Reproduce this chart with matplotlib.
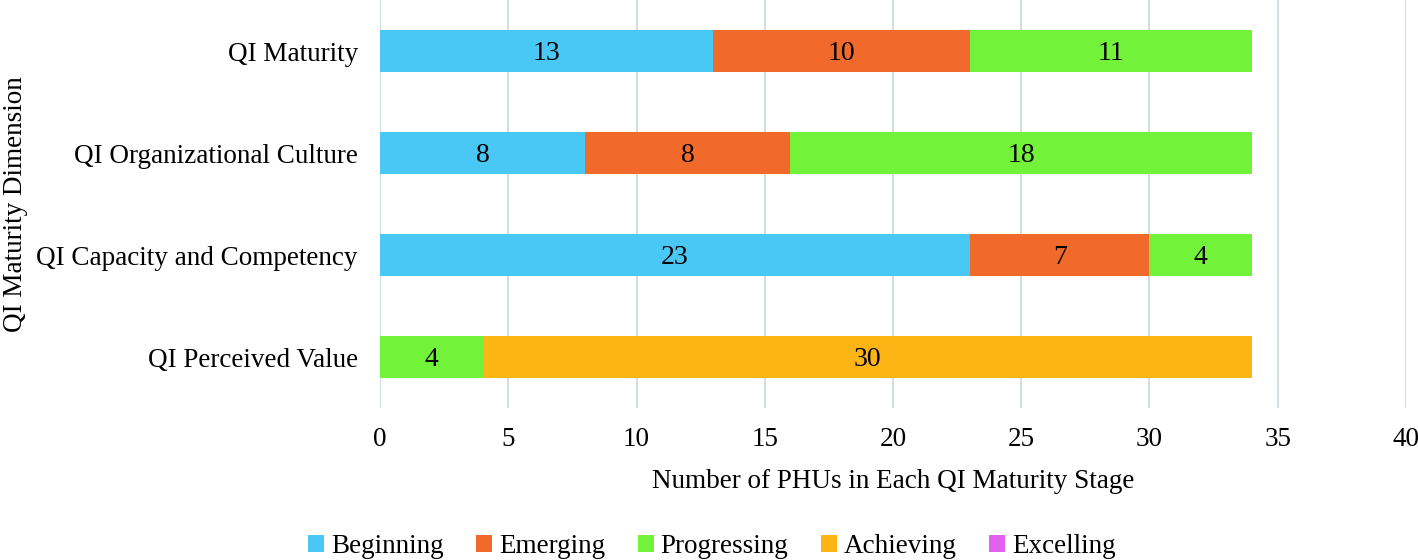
import numpy as np
import matplotlib
matplotlib.use('Agg')
import matplotlib.pyplot as plt

plt.rcParams['font.family'] = ['Liberation Serif', 'DejaVu Serif']

# data, top to bottom as shown
dimensions = ['QI Maturity', 'QI Organizational Culture',
              'QI Capacity and Competency', 'QI Perceived Value']
stages = ['Beginning', 'Emerging', 'Progressing', 'Achieving', 'Excelling']
beginning = [13, 8, 23, 0]
emerging = [10, 8, 7, 0]
progressing = [11, 18, 4, 4]
achieving = [0, 0, 0, 30]
excelling = [0, 0, 0, 0]

colors = ['#4ac8f5', '#f26a2b', '#73f23a', '#fdb515', '#e062ef']
fs = 19.5

fig = plt.figure(figsize=(14.18, 5.6), dpi=100)
ax = fig.add_axes([0.268, 0.2714, 0.7235, 0.7286])

y = np.arange(len(dimensions))
left = np.zeros(len(dimensions))
for name, vals, col in zip(stages, [beginning, emerging, progressing, achieving, excelling], colors):
    vals = np.array(vals, dtype=float)
    bars = ax.barh(y, vals, left=left, height=0.41, color=col, label=name, zorder=3)
    for b, v in zip(bars, vals):
        if v > 0:
            ax.text(b.get_x() + b.get_width() / 2, b.get_y() + b.get_height() / 2 + 0.02,
                    f'{int(v)}', ha='center', va='center', fontsize=fs + 0.5, zorder=4)
    left += vals

ax.set_xlim(0, 40)
ax.set_ylim(3.5, -0.5)
ax.set_yticks(y)
ax.set_yticklabels(dimensions, fontsize=fs)
ax.set_xticks(np.arange(0, 41, 5))
ax.tick_params(axis='x', labelsize=fs, length=0, pad=14)
ax.tick_params(axis='y', length=0, pad=16)
ax.grid(axis='x', color='#d5dde0', linewidth=1.5, zorder=0)
for s in ax.spines.values():
    s.set_visible(False)

ax.set_xlabel('Number of PHUs in Each QI Maturity Stage', fontsize=fs, labelpad=12)
ax.set_ylabel('QI Maturity Dimension', fontsize=fs)
ax.yaxis.set_label_coords(-0.343, 0.5)

fig.legend(loc='lower center', bbox_to_anchor=(0.502, -0.042), ncol=5, frameon=False,
           fontsize=fs, handlelength=0.6, handleheight=0.6, handletextpad=0.25,
           columnspacing=1.2)

fig.savefig('out.png', dpi=100)
